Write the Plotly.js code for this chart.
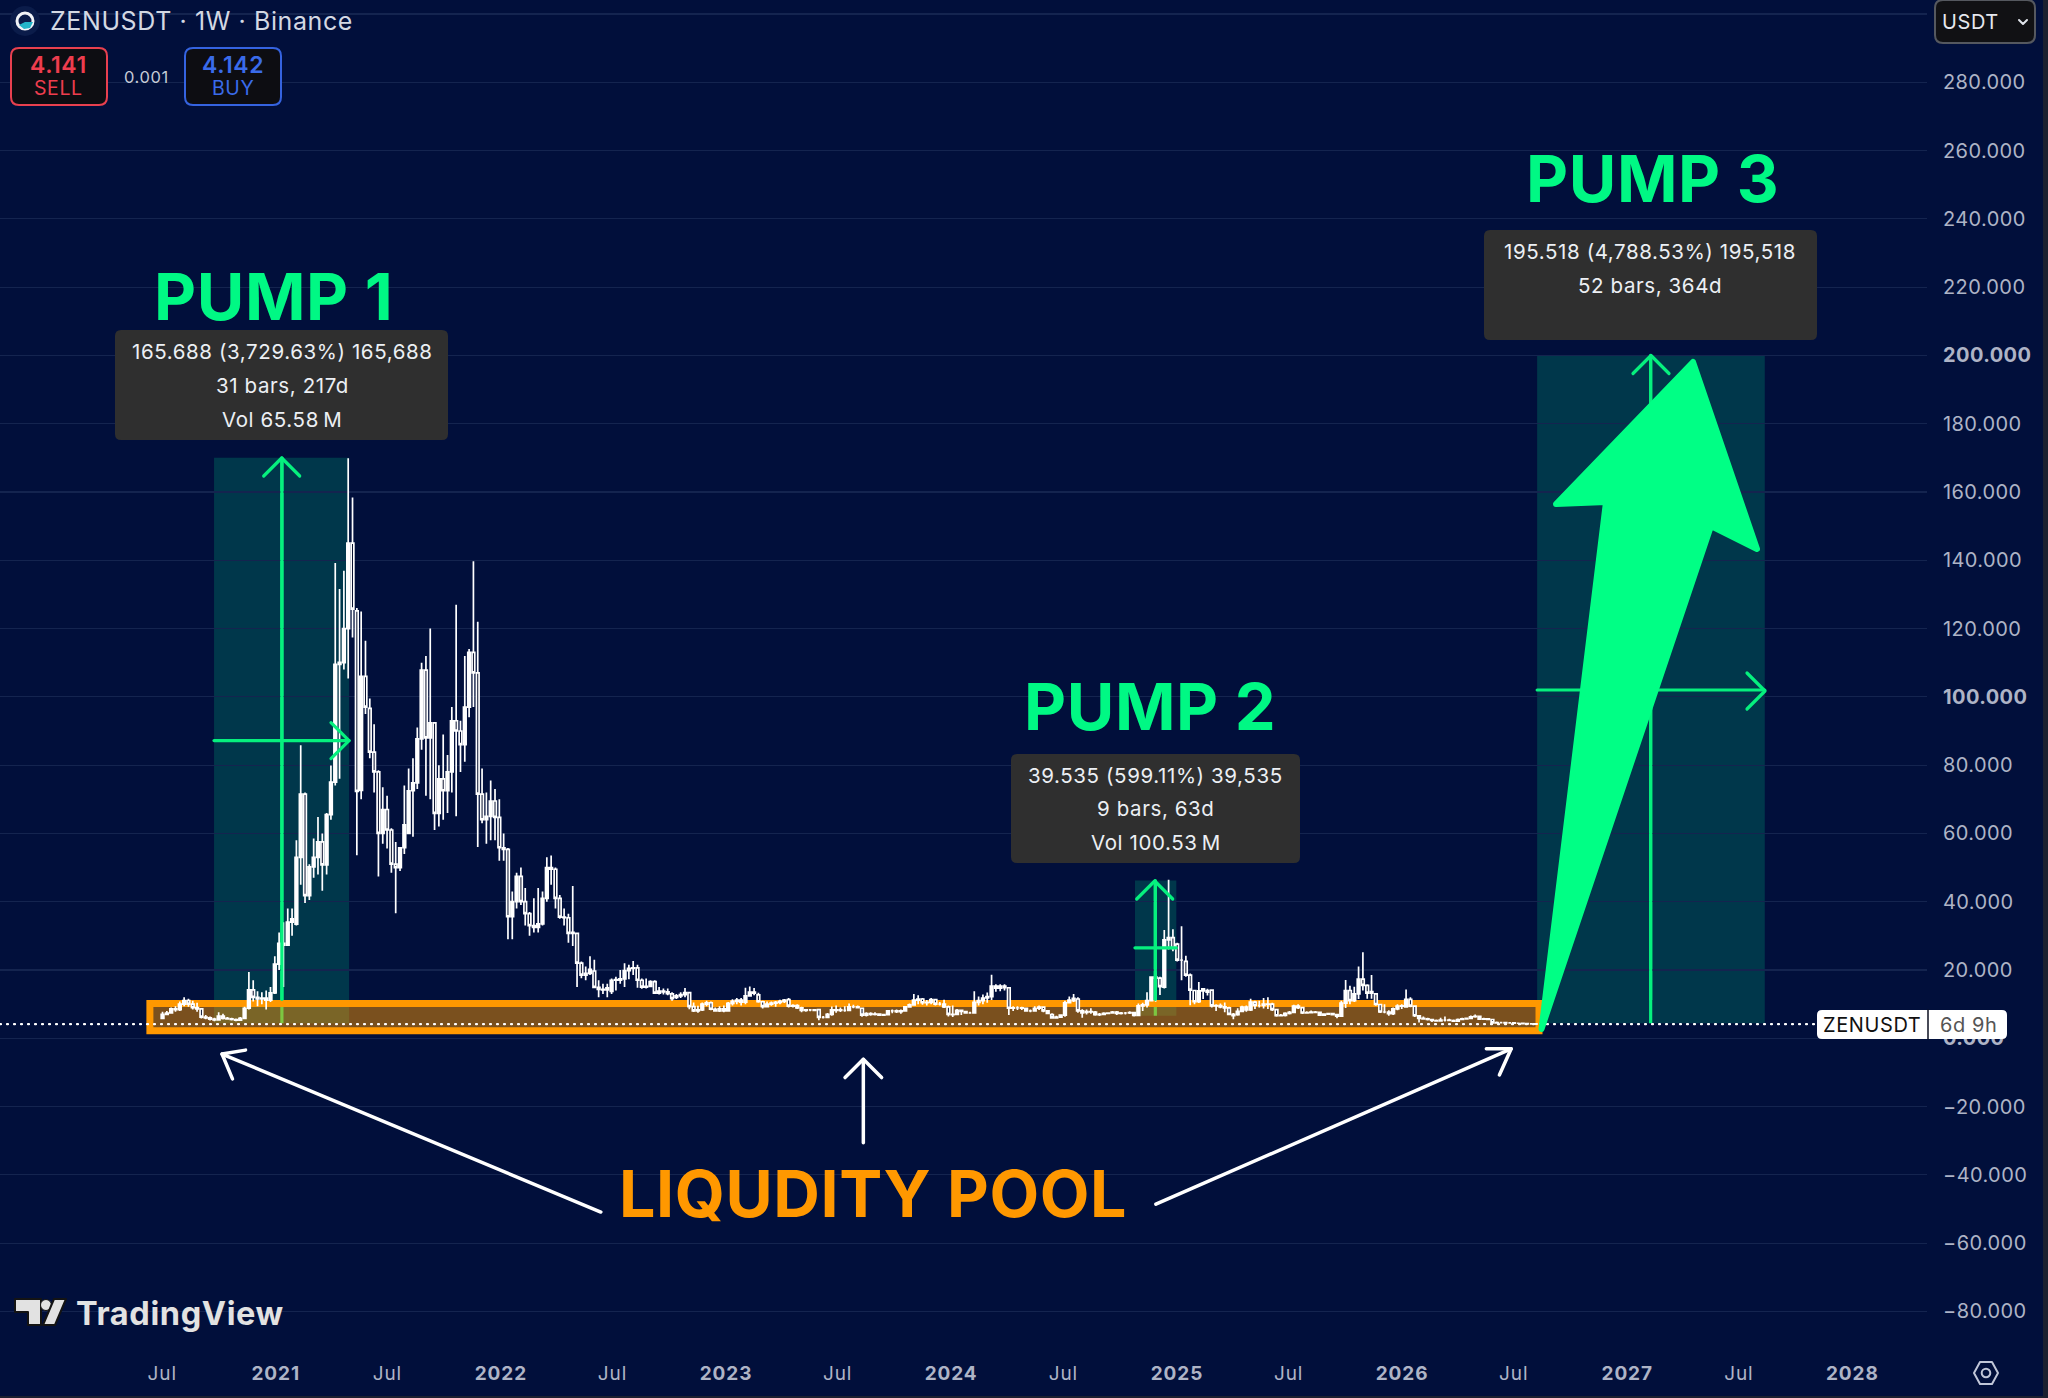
<!DOCTYPE html>
<html><head><meta charset="utf-8">
<script src="https://cdn.plot.ly/plotly-3.0.1.min.js"></script>
<style>html,body{margin:0;padding:0;background:#010f3b}#c{width:2048px;height:1398px}
.annotation-text{letter-spacing:.6px}
.ytick text{letter-spacing:.4px}
.xtick text{letter-spacing:.9px}
.layer-above path{stroke-linejoin:round;stroke-linecap:round}
</style>
</head><body><div id="c"></div>
<script>
// ---------- data: weekly bars (Monday open dates) ----------
const bar_dates = [
'2020-06-29','2020-07-06','2020-07-13','2020-07-20','2020-07-27','2020-08-03','2020-08-10','2020-08-17','2020-08-24','2020-08-31',
'2020-09-07','2020-09-14','2020-09-21','2020-09-28','2020-10-05','2020-10-12','2020-10-19','2020-10-26','2020-11-02','2020-11-09',
'2020-11-16','2020-11-23','2020-11-30','2020-12-07','2020-12-14','2020-12-21','2020-12-28',
'2021-01-04','2021-01-11','2021-01-18','2021-01-25','2021-02-01','2021-02-08','2021-02-15','2021-02-22','2021-03-01','2021-03-08','2021-03-15','2021-03-22','2021-03-29',
'2021-04-05','2021-04-12','2021-04-19','2021-04-26','2021-05-03','2021-05-10','2021-05-17','2021-05-24','2021-05-31','2021-06-07','2021-06-14','2021-06-21','2021-06-28',
'2021-07-05','2021-07-12','2021-07-19','2021-07-26','2021-08-02','2021-08-09','2021-08-16','2021-08-23','2021-08-30','2021-09-06','2021-09-13','2021-09-20','2021-09-27',
'2021-10-04','2021-10-11','2021-10-18','2021-10-25','2021-11-01','2021-11-08','2021-11-15','2021-11-22','2021-11-29','2021-12-06','2021-12-13','2021-12-20','2021-12-27',
'2022-01-03','2022-01-10','2022-01-17','2022-01-24','2022-01-31','2022-02-07','2022-02-14','2022-02-21','2022-02-28','2022-03-07','2022-03-14','2022-03-21','2022-03-28',
'2022-04-04','2022-04-11','2022-04-18','2022-04-25','2022-05-02','2022-05-09','2022-05-16','2022-05-23','2022-05-30','2022-06-06','2022-06-13','2022-06-20','2022-06-27',
'2022-07-04','2022-07-11','2022-07-18','2022-07-25','2022-08-01','2022-08-08','2022-08-15','2022-08-22','2022-08-29','2022-09-05','2022-09-12','2022-09-19','2022-09-26',
'2022-10-03','2022-10-10','2022-10-17','2022-10-24','2022-10-31','2022-11-07','2022-11-14','2022-11-21','2022-11-28','2022-12-05','2022-12-12','2022-12-19','2022-12-26',
'2023-01-02','2023-01-09','2023-01-16','2023-01-23','2023-01-30','2023-02-06','2023-02-13','2023-02-20','2023-02-27','2023-03-06','2023-03-13','2023-03-20','2023-03-27',
'2023-04-03','2023-04-10','2023-04-17','2023-04-24','2023-05-01','2023-05-08','2023-05-15','2023-05-22','2023-05-29','2023-06-05','2023-06-12','2023-06-19','2023-06-26',
'2023-07-03','2023-07-10','2023-07-17','2023-07-24','2023-07-31','2023-08-07','2023-08-14','2023-08-21','2023-08-28','2023-09-04','2023-09-11','2023-09-18','2023-09-25',
'2023-10-02','2023-10-09','2023-10-16','2023-10-23','2023-10-30','2023-11-06','2023-11-13','2023-11-20','2023-11-27','2023-12-04','2023-12-11','2023-12-18','2023-12-25',
'2024-01-01','2024-01-08','2024-01-15','2024-01-22','2024-01-29','2024-02-05','2024-02-12','2024-02-19','2024-02-26','2024-03-04','2024-03-11','2024-03-18','2024-03-25',
'2024-04-01','2024-04-08','2024-04-15','2024-04-22','2024-04-29','2024-05-06','2024-05-13','2024-05-20','2024-05-27','2024-06-03','2024-06-10','2024-06-17','2024-06-24',
'2024-07-01','2024-07-08','2024-07-15','2024-07-22','2024-07-29','2024-08-05','2024-08-12','2024-08-19','2024-08-26','2024-09-02','2024-09-09','2024-09-16','2024-09-23','2024-09-30',
'2024-10-07','2024-10-14','2024-10-21','2024-10-28','2024-11-04','2024-11-11','2024-11-18','2024-11-25','2024-12-02','2024-12-09','2024-12-16','2024-12-23','2024-12-30',
'2025-01-06','2025-01-13','2025-01-20','2025-01-27','2025-02-03','2025-02-10','2025-02-17','2025-02-24','2025-03-03','2025-03-10','2025-03-17','2025-03-24','2025-03-31',
'2025-04-07','2025-04-14','2025-04-21','2025-04-28','2025-05-05','2025-05-12','2025-05-19','2025-05-26','2025-06-02','2025-06-09','2025-06-16','2025-06-23','2025-06-30',
'2025-07-07','2025-07-14','2025-07-21','2025-07-28','2025-08-04','2025-08-11','2025-08-18','2025-08-25','2025-09-01','2025-09-08','2025-09-15','2025-09-22','2025-09-29',
'2025-10-06','2025-10-13','2025-10-20','2025-10-27','2025-11-03','2025-11-10','2025-11-17','2025-11-24','2025-12-01','2025-12-08','2025-12-15','2025-12-22','2025-12-29',
'2026-01-05','2026-01-12','2026-01-19','2026-01-26','2026-02-02','2026-02-09','2026-02-16','2026-02-23','2026-03-02','2026-03-09','2026-03-16','2026-03-23','2026-03-30',
'2026-04-06','2026-04-13','2026-04-20','2026-04-27','2026-05-04','2026-05-11','2026-05-18','2026-05-25','2026-06-01','2026-06-08','2026-06-15','2026-06-22','2026-06-29',
'2026-07-06','2026-07-13','2026-07-20','2026-07-27','2026-08-03'];

const bar_open = [
5.8,7.0,7.4,8.6,8.4,10.0,11.0,10.0,9.0,8.6,
6.2,6.0,5.6,5.4,6.5,5.8,5.7,5.5,5.3,5.8,
8.8,14.2,12,11.5,11.8,11.2,13.3,21.7,27.8,27.3,
34,33.4,53,71.5,41.8,50.2,53,57.5,50.8,65.5,
75,109.5,110,120,145,125.2,72.6,106,96.6,83.8,
78,60,67,61,51,50,55.8,60,72.5,74.8,
87.7,107.8,88,92.4,65.9,76,72.5,78,93,90,
86,97,113,107,71.5,64,65,69.5,64.7,55.8,
55.3,35.6,40,47.4,40,36.5,33,32.5,33.5,41,
50,49.5,41,35.5,35.3,30.7,30.7,22,18.5,19,
19.7,14.9,14.3,14.2,13.7,17,17,17.4,19.8,20.5,
20.6,17,15,15.2,16.6,13.2,13.8,13.6,13,12,
12.4,12.8,13.4,9.3,8,8.3,10,10.4,8.5,8,
8.6,8,10.2,10.8,11.2,10.6,12.4,13.5,12.7,10.7,
9.3,10,10.3,10.5,10.8,11.3,9.4,9.6,8.9,8.2,
8.3,8.3,8.4,6.1,6.1,7,8.3,8.3,8.2,8.2,
9.2,9.2,8.8,6.8,7.2,7,7.1,6.8,6.9,8,
8,7.8,8,9.2,9.8,11.2,11.5,10.4,10.5,11.3,
10,10,9.2,7,7,8.2,7.8,7.4,7.4,10.5,
11,11.8,12.2,15.3,14.7,15.3,14.8,8.8,8.9,8.9,
8.8,8,8,8.8,9.1,8,6.9,6,6.2,6.8,
10.4,11,11.5,8,7.6,7.8,7.7,6.9,7,7.3,
7.4,7.7,7.3,7.4,7.4,7.5,6.7,9.5,9.8,11,
17.9,17.6,15,28.8,29.5,27.6,22.9,22.5,18.5,14,
10.7,13.9,14,14.1,9.5,9.6,9.2,8.9,7,6.9,
7.9,9.1,8.3,10.6,9.6,9.6,10,10,8.4,6.6,
6.7,7.3,7.6,9.4,9,7.4,7.5,7.7,7.6,6.8,
7.1,7.2,6.9,6.5,10.3,14,11,13,17.3,15.5,
13.2,13,9.9,7.7,7.7,7.2,8.6,9.4,9.2,11.4,
9.4,6.6,5.8,5.7,5.5,5.2,5.1,5.3,5.3,5.2,
5,5.5,5.7,5.8,6.3,6.4,5.6,5.7,5.5,4.5,
4.6,4.6,4.5,4.5,4.4,4.4,4.3,4.2,4.2];

const bar_high = [
7.8,8,9,9.4,10.8,12,11.6,11,10.4,8.8,
6.8,6.4,6,7.6,7.2,6.2,6,5.8,6.2,9.2,
19.4,17,13.8,13.5,14,15,24,31,34,38,
38,58,85.8,72,51,58.5,64.8,60,66,79.9,
139.2,131.6,136.9,169.9,158.4,126,125,116.4,99.5,92,
78.5,73.5,71,61.5,57.5,56,74,79,82,91,
110,112,120,92.6,80,89,83,97,127,93,
112,114,139.7,122,79,72,75.5,73,70,60,
55.7,43,48.5,50,44,37,41,44,43,53,
53.5,50,42,38,36.5,44.6,31,22.5,21,24,
23,17,16,16,17.5,18,20,22,21.5,22.6,
21.5,17.5,17.5,17,17,15,14.6,14.6,13.5,13,
13.5,14.7,13.6,10.5,9.5,10.5,11,10.8,9,9.4,
9.6,10.6,11.4,11.8,11.8,14.8,15.2,14.7,13.3,11,
10.8,10.8,10.9,11.3,11.5,11.8,10,10,9.2,8.6,
8.6,8.6,8.5,6.5,7.4,9.3,9.6,9,9.4,10.2,
9.8,9.6,9,7.6,7.6,7.6,7.3,7.2,8.2,8.4,
8.4,8.4,9.4,10.2,13,12.6,11.8,11.2,11.8,11.6,
10.6,11.3,9.6,9.6,8.6,8.4,8,7.8,13.8,12.2,
12.8,13.4,18.6,15.8,15.8,15.8,14.9,9.4,9.4,9.2,
9,8.4,9.4,9.6,9.2,8.2,7.3,6.6,7,11,
12.2,13,12,8.5,8.4,8.8,8,7.4,7.6,7.6,
8,8,7.7,7.7,7.9,7.7,10.2,10.4,13.5,18,
19.3,18,31.7,46.4,31.9,28,32.8,24.2,19,14.2,
16.5,14.7,14.5,14.3,10,10.2,10.5,9.2,7.4,8.8,
9.5,9.6,11.6,11,11,11.8,12,10.4,8.6,7.1,
7.6,8,9.8,10,9.2,7.9,8.1,8,7.7,7.3,
7.4,7.3,7,11,17.1,15.4,15.1,21,25.2,15.8,
18.5,13.2,10,10,8.2,9,10,10,14.3,12,
9.6,6.8,6.4,6,5.7,5.5,6,6.4,5.7,5.5,
5.8,6,6.1,6.7,7,6.5,6,5.9,5.6,4.9,
4.8,4.7,4.7,4.6,4.5,4.5,4.4,4.4,4.3];

const bar_low = [
5.6,6.8,7.2,7.8,8,9.4,9.2,8.4,7.8,5.8,
5.6,5.2,5,5.2,5.5,5.4,5.2,5,5.2,5.6,
8.4,10.8,9.4,10,8.4,10.6,13,20,15,27,
30,33,45,39.6,40.5,47,48,43.2,48,64,
74,76,108,105.4,117.4,53.6,70,95,82,72,
47.4,57,55.6,48.5,36.6,49,54,60,59,73,
84.5,71,70,61,62,64,66,72,65,78,
81,94,97,56,63,57,58,58,52,52,
29,29,38,39,33,30,31,31,33,40,
45,38,35,33,28,27,15,17.6,17,18.5,
14.9,12,13,12,13,14,16,15,17.3,18.5,
14.8,14.5,14.6,15,13,12.8,12.8,12.6,11,11.5,
11.8,12,8.5,7.7,7.5,8,9.4,8.2,7.8,7.7,
7.6,7.8,9.6,10,9.6,10,12.2,12.6,10.4,8.7,
9,9.5,9.2,10,10.3,9,9,8.6,7.6,7.8,
7.9,8,5.3,5.8,5.9,6.6,7.5,7.7,7.8,8,
8.8,8.7,6.3,6.4,6.6,6.7,6.6,6.6,6.7,7.3,
7.4,7.2,7.8,9,9.5,10,9.8,9.6,10,9.6,
9.6,8.9,6.4,6.2,6.8,6.8,7.2,7.2,7.2,9.6,
10,10.4,11.2,13.6,13.8,14,6.8,8,8.3,8.3,
7.8,7.6,7.8,8.3,7.6,7.1,5.9,5.8,6,6.3,
10.2,10.6,7.5,6,7,7.2,6.6,6.5,6.8,7.1,
7.2,6.8,7,7,7.1,6.4,6.5,8,9,10.8,
10.7,12.7,14.6,26,25.5,22.5,17,18,9.7,10,
10.3,11.5,12.5,9,8,8.8,7.6,6.8,5.6,6.6,
7.6,7.8,8,8.6,9,8.7,8.6,8,6.3,6.4,
6.4,7,7.5,8.6,7.1,7.2,7.3,7.3,6.6,6.7,
6.9,6.7,5.9,6.3,8.9,10,10.6,11.5,14,11.6,
11.6,9.5,7.4,7.3,6.6,6.8,8.2,8.6,9,9.1,
6.2,4.6,5.4,5.2,4.8,4.9,4.9,4.9,5,4.9,
5,5.4,5.6,5.6,6,5.4,5.4,5.3,4.3,4.3,
4.4,4.3,4.3,4.3,4.2,4.2,4.1,4.1,4.1];

const bar_close = [
7,7.4,8.6,8.4,10,11,10,9,8.6,6.2,
6,5.6,5.4,6.5,5.8,5.7,5.5,5.3,5.8,8.8,
14.2,12,11.5,11.8,11.2,13.3,21.7,27.8,27.3,34,
35,53,71.5,41.8,50.2,53,57.5,50.8,65.5,75,
109.5,110.1,120,145,125.7,72.3,106,97,83.8,78,
60,67,61,51,50,55.8,62.5,72.5,74.8,87.7,
107.8,88,92.4,65.9,76,72.5,78,93,90,86,
97,113,107,71.5,64,65,69.5,64.7,55.8,55.3,
35.6,40,47.4,40,36.5,33,32.5,33.5,41,50,
49.5,41,35.5,35.3,30.7,31,22,18.5,19,20.2,
14.9,14.3,14.2,14.8,17,17.2,17.4,19.8,20.5,20.6,
17,15,15.2,16.6,13.2,13.8,13.6,13.1,11.6,12.4,
12.8,13.4,9.3,8,8.3,10,10.4,8.5,8,8.6,
8,10.2,10.8,11.2,10.6,12.4,13.5,13.2,10.7,9.3,
10,10.3,10.5,10.8,11.2,9.4,9.6,8.9,8.2,8.3,
8.3,8.2,6.1,6.1,7,8.3,8.2,8.2,8.2,9.2,
9.2,9,6.8,7.2,7,7.1,6.8,6.9,8,8,
7.8,8,9.2,9.8,11.2,11.5,10.4,10.5,11.3,10,
10,9.2,7,6.9,8.2,7.9,7.4,7.4,10.5,11,
11.8,12.2,15.3,14.7,15.3,14.8,8.8,8.9,8.9,8.8,
8,8,8.8,9.1,8,7.3,6,6.2,6.8,10.4,
11.2,11.7,8,7.4,7.8,7.7,6.9,7,7.3,7.4,
7.7,7.3,7.4,7.4,7.5,6.7,9.5,9.8,11,17.9,
17.6,15.1,28.8,29.5,26.3,22.9,22.9,18.5,14.1,10.7,
13.9,14.5,13.5,9.5,9.6,9.2,8.9,7,6.6,7.9,
9.1,8.3,10.6,9.6,9.6,10,9.9,8.4,6.6,6.7,
7.3,7.6,9.4,9,7.4,7.5,7.7,7.6,6.8,7.1,
7.2,6.9,6.5,10.3,14,11,13,17.3,15.5,13.2,
13.7,9.9,7.7,7.7,7.2,8.6,9.4,9.5,11.4,9.4,
6.6,5.8,5.7,5.5,5.2,5.1,5.3,5.3,5.2,5,
5.5,5.7,5.8,6.3,6.4,5.6,5.7,5.5,4.5,4.6,
4.6,4.5,4.5,4.4,4.4,4.3,4.2,4.2,4.14];

// ---------- axis ticks ----------
const x_tick_dates = ['2020-07-01','2021-01-01','2021-07-01','2022-01-01','2022-07-01','2023-01-01','2023-07-01','2024-01-01','2024-07-01','2025-01-01','2025-07-01','2026-01-01','2026-07-01','2027-01-01','2027-07-01','2028-01-01'];
const x_tick_labels = ['Jul','<b>2021</b>','Jul','<b>2022</b>','Jul','<b>2023</b>','Jul','<b>2024</b>','Jul','<b>2025</b>','Jul','<b>2026</b>','Jul','<b>2027</b>','Jul','<b>2028</b>'];
const y_tick_vals = [300,280,260,240,220,200,180,160,140,120,100,80,60,40,20,0,-20,-40,-60,-80];
const y_tick_labels = ['300.000','280.000','260.000','240.000','220.000','<b>200.000</b>','180.000','160.000','140.000','120.000','<b>100.000</b>','80.000','60.000','40.000','20.000','<b>0.000</b>','−20.000','−40.000','−60.000','−80.000'];

// ---------- measure tools and price ----------
const pump_start = ['2020-09-23','2024-10-25','2026-08-08'];
const pump_end   = ['2021-04-30','2024-12-31','2027-08-12'];
const pump_mid   = ['2021-01-11','2024-11-27','2027-02-08'];
const pump_base  = [4.4,6.6,4.4];
const pump_top   = [170,46.2,200];
const pump_midval= [87.2,26.5,102];
const last_price = 4.14;
const pool_start = '2020-06-11', pool_end = '2026-08-11', pool_low = 2.2, pool_high = 10.2;

// ---------- page geometry ----------
const W=2048,H=1398,PW=1927,PH=1350;
const fx=x=>x/PW, fy=y=>1-y/PH;
const pth=(pts,close)=>pts.map((p,i)=>(i?'L':'M')+fx(p[0])+','+fy(p[1])).join(' ')+(close?' Z':'');
function rr(x0,y0,x1,y1,r){
  const P=(x,y)=>fx(x)+','+fy(y);
  return 'M'+P(x0+r,y0)+' L'+P(x1-r,y0)+' Q'+P(x1,y0)+' '+P(x1,y0+r)+' L'+P(x1,y1-r)+' Q'+P(x1,y1)+' '+P(x1-r,y1)+
         ' L'+P(x0+r,y1)+' Q'+P(x0,y1)+' '+P(x0,y1-r)+' L'+P(x0,y0+r)+' Q'+P(x0,y0)+' '+P(x0+r,y0)+' Z';
}
const pageShape=(path,fill,lineColor,lw,layer)=>({type:'path',xref:'paper',yref:'paper',path,fillcolor:fill||'rgba(0,0,0,0)',
  line:{color:lineColor||'rgba(0,0,0,0)',width:lw||0},layer:layer||'above'});
const circ=(cx,cy,r,fill,lineColor,lw)=>({type:'circle',xref:'paper',yref:'paper',x0:fx(cx-r),x1:fx(cx+r),y0:fy(cy+r),y1:fy(cy-r),
  fillcolor:fill||'rgba(0,0,0,0)',line:{color:lineColor||'rgba(0,0,0,0)',width:lw||0},layer:'above'});
const txt=(x,y,text,size,color,extra)=>Object.assign({xref:'paper',yref:'paper',x:fx(x),y:fy(y),text,showarrow:false,xanchor:'center',yanchor:'middle',
  font:{family:'Inter, Roboto, sans-serif',size,color}},extra||{});

const GREEN='#06f07e', BIG='#00ff85', MEAS='rgba(0,200,130,0.22)', ORANGE='#ff9800';
const shapes=[];
// measure boxes and band (under the candles)
pump_start.forEach((s,i)=>{
  shapes.push({type:'rect',xref:'x',yref:'y',x0:s,x1:pump_end[i],y0:pump_base[i],y1:pump_top[i],fillcolor:MEAS,line:{width:0},layer:'below'});
  shapes.push({type:'line',xref:'x',yref:'y',x0:pump_mid[i],x1:pump_mid[i],y0:pump_base[i],y1:pump_top[i],line:{color:GREEN,width:3.2},layer:'below'});
});
shapes.push({type:'rect',xref:'x',yref:'y',x0:pool_start,x1:pool_end,y0:pool_low,y1:pool_high,fillcolor:'rgba(255,152,0,0.48)',line:{color:ORANGE,width:7},layer:'below'});
// measure arrows above the candles
pump_start.forEach((s,i)=>{
  shapes.push({type:'line',xref:'x',yref:'y',x0:pump_mid[i],x1:pump_mid[i],y0:11.4,y1:pump_top[i],line:{color:GREEN,width:3.2},layer:'above'});
  shapes.push({type:'line',xref:'x',yref:'y',x0:s,x1:pump_end[i],y0:pump_midval[i],y1:pump_midval[i],line:{color:GREEN,width:3.2},layer:'above'});
});
[[281.7,458,0],[1154.7,881,0],[1651,355.5,0]].forEach(a=>shapes.push(pageShape(pth([[a[0]-18,a[1]+18],[a[0],a[1]],[a[0]+18,a[1]+18]]),null,GREEN,3.2)));
[[349,740.6],[1765,691]].forEach(a=>shapes.push(pageShape(pth([[a[0]-18,a[1]-18],[a[0],a[1]],[a[0]-18,a[1]+18]]),null,GREEN,3.2)));
// last price dots
shapes.push({type:'line',xref:'paper',yref:'y',x0:0,x1:fx(1815),y0:last_price,y1:last_price,line:{color:'#ffffff',width:2.2,dash:'1px,6px'},layer:'above'});
// big arrow
const S=1.3061;
shapes.push(pageShape(pth([[1541.5,1029],[1606,502],[1556,504],[1693,362],[1757,549],[1711,526]],true),BIG,BIG,6));
// white arrows
[[[460,928],[170,807]],[[661,875],[661,811]],[[885,922],[1157,803]]].forEach(l=>shapes.push(pageShape(pth(l.map(p=>[p[0]*S,p[1]*S])),null,'#ffffff',3.5)));
[[[188,804],[170,807],[178,826]],[[647,825],[661,811],[675,825]],[[1138,803],[1157,803],[1148,823]]].forEach(l=>shapes.push(pageShape(pth(l.map(p=>[p[0]*S,p[1]*S])),null,'#ffffff',3.5)));
// info boxes
shapes.push(pageShape(rr(115,330,448,440,6),'#2f2f2f'));
shapes.push(pageShape(rr(1011,754,1300,863,6),'#2f2f2f'));
shapes.push(pageShape(rr(1484,230,1817,340,6),'#2f2f2f'));
// sell / buy
shapes.push(pageShape(rr(11,48,107,105,8),'#0d0d12','#e8404f',2));
shapes.push(pageShape(rr(185,48,281,105,8),'#0d0d12','#3563e0',2));
// USDT button
shapes.push(pageShape(rr(1935,0,2035,43,8),'#111114','#55585f',2));
shapes.push(pageShape(pth([[2019,20],[2023,24],[2027,20]]),null,'#e0e3ea',2));
// price label
shapes.push(pageShape(rr(1817,1010,2007,1039,5),'#ffffff'));
shapes.push(pageShape(pth([[1928,1010],[1928,1039]]),null,'#0b0f20',1.5));
// coin logo
shapes.push(circ(25,21,15,'#0b1c4a'));
shapes.push(circ(25,21,8,null,'#f2f4f8',3));
shapes.push(pageShape(pth([[19,25],[25,22],[33,22],[30,28],[24,29]],true),'#23b5c9'));
// tradingview logo
shapes.push(pageShape(pth([[15,1299],[41,1299],[41,1325],[28,1325],[28,1312],[15,1312]],true),'#e2e2e2','#141414',2));
shapes.push(circ(46,1305,5.5,'#e2e2e2','#141414',1));
shapes.push(pageShape(pth([[54,1299],[66,1299],[55,1325],[43,1325]],true),'#e2e2e2','#141414',2));
// gear
shapes.push(pageShape(pth([[1974,1373],[1980,1362],[1992,1362],[1998,1373],[1992,1384],[1980,1384]],true),null,'#c0c6d8',2));
shapes.push(circ(1986,1373,4.3,null,'#c0c6d8',2));
// edges of the app window
shapes.push(pageShape(pth([[2043,0],[2048,0],[2048,1398],[2043,1398]],true),'#1c2030'));
shapes.push(pageShape(pth([[0,1396],[2048,1396],[2048,1398],[0,1398]],true),'#1c2030'));

const INFO='#eceff4';
const fw=(w,size,color)=>({font:{family:'Inter, Roboto, sans-serif',size,color,weight:w}});
const annotations=[
  txt(48,21,'ZENUSDT · 1W · Binance',25,'#d3d8e3',{xanchor:'left'}),
  txt(58.5,65,'4.141',23,'#ee3d4e',fw(600,23,'#ee3d4e')),
  txt(58.5,88,'SELL',19.5,'#ee3d4e'),
  txt(146,77,'0.001',16.5,'#c5cad6'),
  txt(232.5,65,'4.142',23,'#3a6bea',fw(600,23,'#3a6bea')),
  txt(232.5,88,'BUY',19.5,'#3a6bea'),
  txt(1940,22,'USDT',20,'#e6e8ee',{xanchor:'left'}),
  txt(1872,1024.5,'ZENUSDT',20,'#111111'),
  txt(1969,1024.5,'6d 9h',20,'#555555'),
  txt(273,296,'<b>PUMP 1</b>',65,'#00f884'),
  txt(1150,706,'<b>PUMP 2</b>',65,'#00f884'),
  txt(1652,178,'<b>PUMP 3</b>',65,'#00f884'),
  txt(873,1194,'<b>LIQUDITY POOL</b>',64.5,ORANGE),
  txt(282,351.5,'165.688 (3,729.63%) 165,688',20.5,INFO),
  txt(282,385.5,'31 bars, 217d',20.5,INFO),
  txt(282,419.5,'Vol 65.58\u2009M',20.5,INFO),
  txt(1155.5,775,'39.535 (599.11%) 39,535',20.5,INFO),
  txt(1155.5,808.5,'9 bars, 63d',20.5,INFO),
  txt(1155.5,842.5,'Vol 100.53\u2009M',20.5,INFO),
  txt(1650,251,'195.518 (4,788.53%) 195,518',20.5,INFO),
  txt(1650,285,'52 bars, 364d',20.5,INFO),
  txt(180,1313,'<b>TradingView</b>',32.5,'#e2e2e2'),
];

const trace={type:'candlestick',x:bar_dates,open:bar_open,high:bar_high,low:bar_low,close:bar_close,
  xperiod:7*86400000,xperiodalignment:'middle',
  increasing:{line:{color:'#ffffff',width:1.7},fillcolor:'#ffffff'},
  decreasing:{line:{color:'#ffffff',width:1.7},fillcolor:'#020a28'},
  whiskerwidth:0,hoverinfo:'skip'};

const layout={
  width:W,height:H,margin:{l:0,r:W-PW,t:0,b:H-PH,pad:0},
  paper_bgcolor:'#010f3b',plot_bgcolor:'#010f3b',showlegend:false,
  boxgap:0.12,
  font:{family:'Inter, Roboto, sans-serif',color:'#aeb4c6'},
  xaxis:{type:'date',range:['2019-10-12','2028-05-01'],rangeslider:{visible:false},showgrid:false,zeroline:false,showline:false,
    tickmode:'array',tickvals:x_tick_dates,ticktext:x_tick_labels,ticks:'',tickfont:{size:19,color:'#aeb4c6'},ticklabelstandoff:10},
  yaxis:{range:[-91.3,304.1],side:'right',showgrid:true,gridcolor:'#14244f',gridwidth:1.2,zeroline:false,showline:false,
    tickmode:'array',tickvals:y_tick_vals,ticktext:y_tick_labels,ticks:'',tickfont:{size:20,color:'#aeb4c6'},ticklabelstandoff:15},
  shapes,annotations
};
Plotly.newPlot('c',[trace],layout,{staticPlot:true,displayModeBar:false});
</script></body></html>
